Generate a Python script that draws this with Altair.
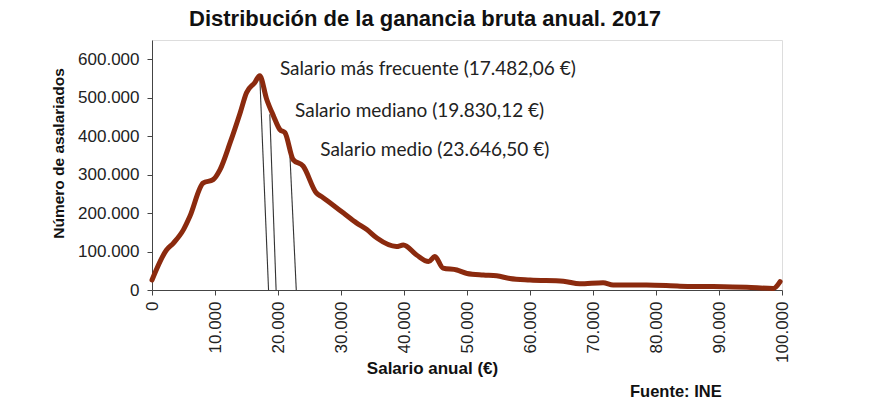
import altair as alt
import pandas as pd

# Distribution curve (salary in €, number of employees)
salario = [0, 2300, 3400, 5000, 6000, 8100, 9700, 10800, 12400, 14000, 15000, 16300, 17100,
           18200, 19300, 20300, 21100, 22400, 24000, 26100, 26900, 28300, 30400, 32500, 34100,
           35700, 38800, 39900, 42000, 43900, 44900, 46200, 48400, 50000, 52600, 54700, 56800,
           60000, 65300, 67900, 71600, 73200, 78500, 83800, 89100, 94400, 98600, 99700]
asalariados = [26000, 104000, 122000, 157000, 191000, 278000, 287000, 313000, 383000, 461000,
               513000, 539000, 557000, 496000, 452000, 417000, 409000, 339000, 322000, 252000,
               243000, 226000, 200000, 174000, 157000, 135000, 113000, 117000, 91000, 74000,
               87000, 57000, 52000, 43000, 39000, 37000, 30000, 26000, 23000, 16000, 19000,
               13000, 13000, 10000, 9000, 7000, 4000, 22000]

# Annotation lines (top on curve, bottom on axis)
ann_x_top = [17100, 18700, 21900]
ann_y_top = [557000, 457000, 348000]
ann_x_bot = [18500, 19700, 22900]
ann_y_bot = [0, 0, 0]

# Annotation labels
ann_text = ["Salario más frecuente (17.482,06 €)",
            "Salario mediano (19.830,12 €)",
            "Salario medio (23.646,50 €)"]
ann_text_x = [20300, 22700, 26700]
ann_text_y = [574000, 466000, 365000]

x_ticks = [0, 10000, 20000, 30000, 40000, 50000, 60000, 70000, 80000, 90000, 100000]
y_ticks = [0, 100000, 200000, 300000, 400000, 500000, 600000]

curve_df = pd.DataFrame({"salario": salario, "asalariados": asalariados})
text_df = pd.DataFrame({"t": ann_text, "x": ann_text_x, "y": ann_text_y})

label_expr = "replace(format(datum.value, ',d'), ',', '.')"

xscale = alt.Scale(domain=[0, 100000], nice=False, zero=True)
yscale = alt.Scale(domain=[0, 650000], nice=False)

curve = alt.Chart(curve_df).mark_line(
    color="#8B2A0E", strokeWidth=5, interpolate="monotone", strokeCap="round", strokeJoin="round"
).encode(
    x=alt.X("salario:Q", scale=xscale,
            axis=alt.Axis(values=x_ticks, labelExpr=label_expr, labelAngle=-90, labelAlign="right",
                          labelBaseline="middle", labelFont="Liberation Sans", labelFontSize=17,
                          labelColor="#222222", labelPadding=6, tickSize=5, tickColor="#444444",
                          domainColor="#444444", grid=False,
                          title="Salario anual (€)", titleFont="Liberation Sans", titleFontSize=17,
                          titleFontWeight="bold", titleColor="#111111",
                          titleX=280, titleY=78, titleBaseline="middle", titleAlign="center")),
    y=alt.Y("asalariados:Q", scale=yscale,
            axis=alt.Axis(values=y_ticks, labelExpr=label_expr, labelFont="Liberation Sans",
                          labelFontSize=17, labelColor="#222222", labelPadding=8, tickSize=5,
                          tickColor="#444444", domainColor="#444444", grid=False,
                          title="Número de asalariados", titleFont="Liberation Sans",
                          titleFontSize=15.5, titleFontWeight="bold", titleColor="#111111",
                          titleAngle=-90, titleX=-94, titleY=113, titleAlign="center",
                          titleBaseline="middle")),
)

seg_rows = []
for i in range(len(ann_x_top)):
    seg_rows.append({"g": i, "o": 0, "x": ann_x_top[i], "y": ann_y_top[i]})
    seg_rows.append({"g": i, "o": 1, "x": ann_x_bot[i], "y": ann_y_bot[i]})
seg_df = pd.DataFrame(seg_rows)
segs = alt.Chart(seg_df).mark_line(color="#333333", strokeWidth=1.1).encode(
    x="x:Q", y="y:Q", detail="g:N", order="o:Q"
)

labels = alt.Chart(text_df).mark_text(
    font="Lato", fontSize=19, align="left", baseline="middle", color="#222222"
).encode(x="x:Q", y="y:Q", text="t:N")

source = alt.Chart(pd.DataFrame({"t": ["Fuente: INE"]})).mark_text(
    font="Liberation Sans", fontSize=16.5, fontWeight="bold", align="left", baseline="middle",
    color="#111111"
).encode(x=alt.value(478), y=alt.value(352), text="t:N")

chart = alt.layer(segs, curve, labels, source).properties(
    width=630, height=250,
    title=alt.TitleParams("Distribución de la ganancia bruta anual. 2017", font="Liberation Sans",
                          fontSize=22, fontWeight="bold", color="#111111", anchor="middle",
                          dx=-42, offset=9),
    autosize=alt.AutoSizeParams(type="none"),
    padding={"left": 152, "top": 40, "right": 93, "bottom": 120},
).configure_view(stroke="#444444", strokeWidth=1).configure(background="white")

chart.save("out.html", embed_options={"renderer": "svg", "actions": False})
